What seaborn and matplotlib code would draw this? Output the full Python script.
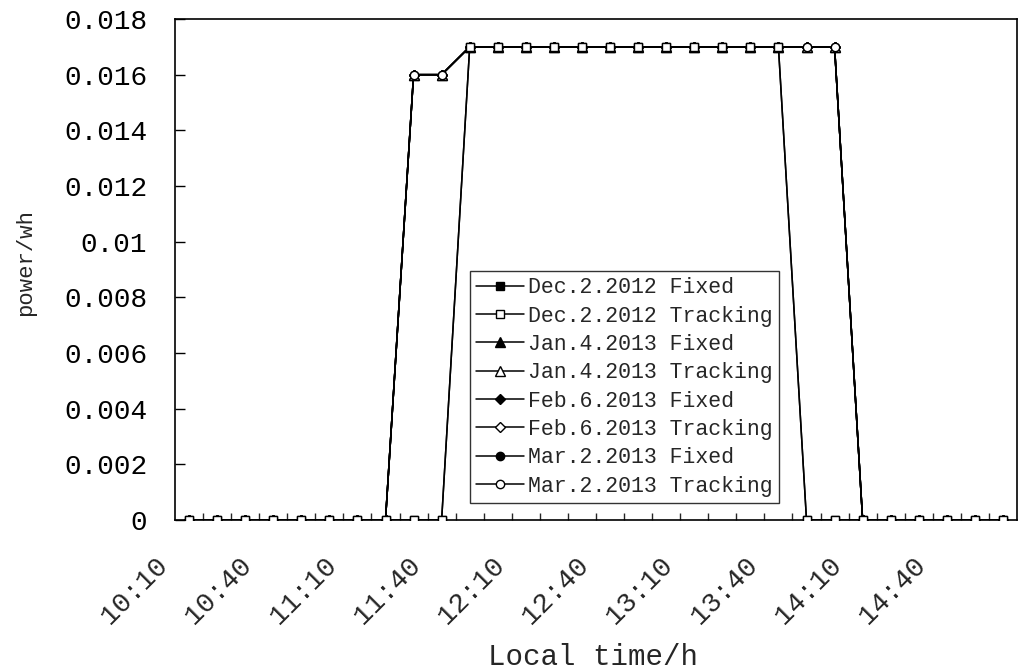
import numpy as np
import pandas as pd
import matplotlib
matplotlib.use("Agg")
import matplotlib.pyplot as plt
import matplotlib.transforms as mtransforms
import seaborn as sns

times = ["10:10", "10:20", "10:30", "10:40", "10:50", "11:00", "11:10", "11:20", "11:30", "11:40",
         "11:50", "12:00", "12:10", "12:20", "12:30", "12:40", "12:50", "13:00", "13:10", "13:20",
         "13:30", "13:40", "13:50", "14:00", "14:10", "14:20", "14:30", "14:40", "14:50", "15:00"]

dec_fixed    = [0, 0, 0, 0, 0, 0, 0, 0, 0, 0, 0.017, 0.017, 0.017, 0.017, 0.017, 0.017, 0.017, 0.017, 0.017, 0.017, 0.017, 0.017, 0, 0, 0, 0, 0, 0, 0, 0]
dec_tracking = [0, 0, 0, 0, 0, 0, 0, 0, 0, 0, 0.017, 0.017, 0.017, 0.017, 0.017, 0.017, 0.017, 0.017, 0.017, 0.017, 0.017, 0.017, 0, 0, 0, 0, 0, 0, 0, 0]
jan_fixed    = [0, 0, 0, 0, 0, 0, 0, 0, 0.016, 0.016, 0.017, 0.017, 0.017, 0.017, 0.017, 0.017, 0.017, 0.017, 0.017, 0.017, 0.017, 0.017, 0.017, 0.017, 0, 0, 0, 0, 0, 0]
jan_tracking = [0, 0, 0, 0, 0, 0, 0, 0, 0.016, 0.016, 0.017, 0.017, 0.017, 0.017, 0.017, 0.017, 0.017, 0.017, 0.017, 0.017, 0.017, 0.017, 0.017, 0.017, 0, 0, 0, 0, 0, 0]
feb_fixed    = [0, 0, 0, 0, 0, 0, 0, 0, 0.016, 0.016, 0.017, 0.017, 0.017, 0.017, 0.017, 0.017, 0.017, 0.017, 0.017, 0.017, 0.017, 0.017, 0.017, 0.017, 0, 0, 0, 0, 0, 0]
feb_tracking = [0, 0, 0, 0, 0, 0, 0, 0, 0.016, 0.016, 0.017, 0.017, 0.017, 0.017, 0.017, 0.017, 0.017, 0.017, 0.017, 0.017, 0.017, 0.017, 0.017, 0.017, 0, 0, 0, 0, 0, 0]
mar_fixed    = [0, 0, 0, 0, 0, 0, 0, 0, 0.016, 0.016, 0.017, 0.017, 0.017, 0.017, 0.017, 0.017, 0.017, 0.017, 0.017, 0.017, 0.017, 0.017, 0.017, 0.017, 0, 0, 0, 0, 0, 0]
mar_tracking = [0, 0, 0, 0, 0, 0, 0, 0, 0.016, 0.016, 0.017, 0.017, 0.017, 0.017, 0.017, 0.017, 0.017, 0.017, 0.017, 0.017, 0.017, 0.017, 0.017, 0.017, 0, 0, 0, 0, 0, 0]

series_names = ["Dec.2.2012 Fixed", "Dec.2.2012 Tracking", "Jan.4.2013 Fixed", "Jan.4.2013 Tracking",
                "Feb.6.2013 Fixed", "Feb.6.2013 Tracking", "Mar.2.2013 Fixed", "Mar.2.2013 Tracking"]
series_values = [dec_fixed, dec_tracking, jan_fixed, jan_tracking,
                 feb_fixed, feb_tracking, mar_fixed, mar_tracking]

xtick_labels = ["10:10", "10:40", "11:10", "11:40", "12:10", "12:40", "13:10", "13:40", "14:10", "14:40"]
ytick_values = [0, 0.002, 0.004, 0.006, 0.008, 0.01, 0.012, 0.014, 0.016, 0.018]
ytick_labels = ["0", "0.002", "0.004", "0.006", "0.008", "0.01", "0.012", "0.014", "0.016", "0.018"]

markers = ["s", "s", "^", "^", "D", "D", "o", "o"]
filled = [True, False, True, False, True, False, True, False]
msizes = [6, 6, 6.5, 6.5, 5, 5, 6, 6]
zorders = [9, 10, 3, 4, 5, 6, 7, 8]

sns.set_style("ticks")
plt.rcParams["font.family"] = ["Liberation Mono", "DejaVu Sans Mono"]

fig = plt.figure(figsize=(10.24, 6.70), dpi=100)
ax = fig.add_axes([175 / 1024, 1 - 520 / 670, (1017 - 175) / 1024, (520 - 19) / 670])

idx = np.arange(len(times))
for name, vals, m, f, ms, z in zip(series_names, series_values, markers, filled, msizes, zorders):
    df = pd.DataFrame({"t": idx, "v": vals})
    sns.lineplot(data=df, x="t", y="v", ax=ax, color="black", linewidth=1.1,
                 marker=m, markersize=ms, markerfacecolor=("black" if f else "white"),
                 markeredgecolor="black", markeredgewidth=1.0, label=name, zorder=z)

ax.set_xlim(-0.5, len(times) - 0.5)
ax.set_ylim(0, 0.018)

ax.set_yticks(ytick_values)
ax.set_yticklabels(ytick_labels, fontsize=20)
ax.tick_params(axis="y", direction="in", length=7, width=1, pad=20, colors="black")

label_pos = [times.index(t) for t in xtick_labels]
ax.set_xticks(label_pos)
ax.set_xticklabels(xtick_labels, fontsize=20, rotation=45, ha="right", va="center",
                   rotation_mode="anchor")
ax.set_xticks(np.arange(0.5, len(times) - 1, 1.0), minor=True)
ax.tick_params(axis="x", which="major", length=0, pad=30)
ax.tick_params(axis="x", which="minor", direction="in", length=5, width=1)
offset = mtransforms.ScaledTranslation(-25 / 100, 0, fig.dpi_scale_trans)
for lbl in ax.get_xticklabels():
    lbl.set_transform(lbl.get_transform() + offset)

for sp in ax.spines.values():
    sp.set_visible(True)
    sp.set_color("black")
    sp.set_linewidth(1.2)

ax.set_xlabel("Local time/h", fontsize=21)
ax.set_ylabel("power/wh", fontsize=16)
ax.xaxis.set_label_coords((593 - 175) / 842, -(643 - 520) / 501)
ax.yaxis.set_label_coords(-(175 - 36) / 842, (520 - 263) / 501)

leg = ax.legend(loc="lower left", bbox_to_anchor=(0.35, 0.034), borderaxespad=0,
                fontsize=15.5, frameon=True, fancybox=False, edgecolor="black",
                handlelength=2.2, handletextpad=0.2, labelspacing=0.34, borderpad=0.3)
leg.get_frame().set_linewidth(1.0)
leg.set_zorder(20)

fig.savefig("out.png", dpi=100, facecolor="white")
